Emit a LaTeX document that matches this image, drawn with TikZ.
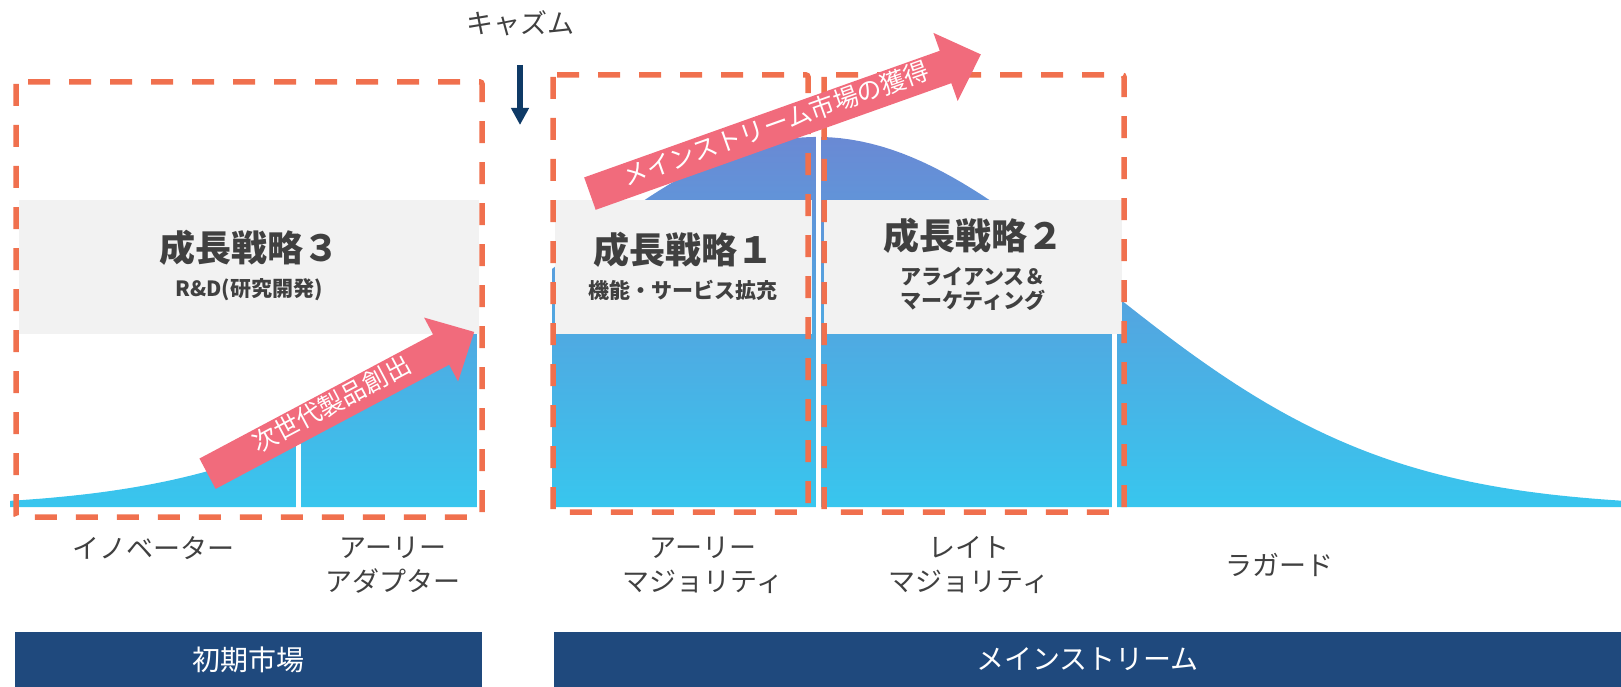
\documentclass[tikz,border=0pt]{standalone}
\usepackage{fontspec}
\setmainfont{Noto Sans CJK JP}
\usetikzlibrary{arrows.meta,shapes.arrows}

\definecolor{dashorange}{HTML}{F0704E}
\definecolor{arrowpink}{HTML}{F16B7C}
\definecolor{navybar}{HTML}{1F497D}
\definecolor{chasmnavy}{HTML}{0E3A66}
\definecolor{panelgray}{HTML}{F2F2F2}
\definecolor{textgray}{HTML}{404040}
\definecolor{curvetop}{HTML}{6A89D4}
\definecolor{curvebot}{HTML}{38C6EE}

\tikzset{
  declare function={bell(\x)=507-370*exp(-((\x-817)/282)^2/2);},
  dashbox/.style={draw=dashorange, line width=5.5pt, dash pattern=on 22pt off 19pt, rounded corners=2pt},
  panel/.style={fill=panelgray},
  phase/.style={text=textgray, font=\fontsize{27}{34}\selectfont, align=center},
  title/.style={text=textgray, font=\fontsize{36}{42}\selectfont\bfseries},
  subtitle/.style={text=textgray, font=\fontsize{21}{24}\selectfont\bfseries, align=center},
  bandbar/.style={fill=navybar, text=white, font=\fontsize{28}{32}\selectfont, inner sep=0pt},
  pinkarrow/.style={single arrow, fill=arrowpink, text=white, font=\fontsize{25}{28}\selectfont,
    text height=17pt, text depth=5pt, inner xsep=0pt, inner ysep=6pt,
    single arrow head extend=19pt, single arrow tip angle=88, single arrow head indent=0pt},
}

\begin{document}
\begin{tikzpicture}[x=1pt, y=-1pt]
    %%Background
    \useasboundingbox (0,0) rectangle (1621,687);
    %%
    % bell curve
    \begin{scope}
        \clip plot[domain=10:1621, samples=160] (\x, {bell(\x)}) -- (1621,507) -- (10,507) -- cycle;
        \shade[top color=curvetop, bottom color=curvebot] (0,135) rectangle (1621,507);
    \end{scope}
    \fill[white] (477,100) rectangle (552,512);
    \foreach \g in {298,818,1114}
        \fill[white] (\g-2.5,100) rectangle (\g+2.5,512);

    % strategy panels
    \fill[panel] (19,200) rectangle (479,334);
    \fill[panel] (555,200) rectangle (812,334);
    \fill[panel] (824,200) rectangle (1122,334);

    \draw[dashbox] (16,82) rectangle (482,517);
    \draw[dashbox] (553,75) rectangle (808,512);
    \draw[dashbox] (824,75) rectangle (1124,512);

    \node[title] (s3) at (249,248) {成長戦略３};
    \node[subtitle] (s3sub) at (249,290) {R\&D(研究開発)};
    \node[title] (s1) at (683,250) {成長戦略１};
    \node[subtitle] (s1sub) at (683,290) {機能・サービス拡充};
    \node[title] (s2) at (973,236) {成長戦略２};
    \node[subtitle] (s2sub) at (973,289) {アライアンス＆\\マーケティング};

    % pink arrows
    \node[pinkarrow, minimum height=302pt, rotate=28] (nextgen) at (333,407) {次世代製品創出};
    \node[pinkarrow, minimum height=415pt, rotate=19.6] (mainwin) at (777,127) {メインストリーム市場の獲得};

    % chasm
    \node[phase] (chasm) at (520,23) {キャズム};
    \coordinate (chasmtop) at (520,65);
    \coordinate (chasmtip) at (520,125);
    \draw[chasmnavy, line width=6pt, -{Triangle[width=17pt,length=17pt]}] (chasmtop) -- (chasmtip);

    % adopter groups
    \node[phase] (innov) at (153,548) {イノベーター};
    \node[phase] (adopt) at (393,565) {アーリー\\アダプター};
    \node[phase] (emaj) at (703,565) {アーリー\\マジョリティ};
    \node[phase] (lmaj) at (969,565) {レイト\\マジョリティ};
    \node[phase] (lagg) at (1279,565) {ラガード};

    % markets
    \node[bandbar, minimum width=467pt, minimum height=55pt] (early) at (248.5,659.5) {初期市場};
    \node[bandbar, minimum width=1067pt, minimum height=55pt] (main) at (1087.5,659.5) {メインストリーム};

\end{tikzpicture}
\end{document}
